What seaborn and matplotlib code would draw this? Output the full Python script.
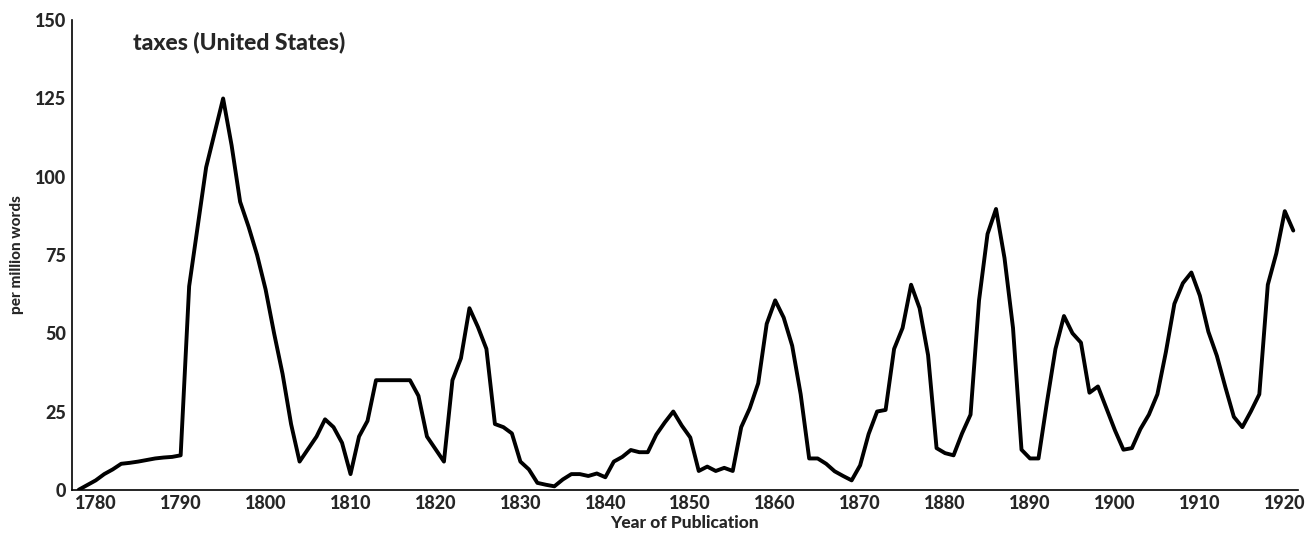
import matplotlib
matplotlib.use("Agg")
import matplotlib.pyplot as plt
import seaborn as sns
import pandas as pd

years = list(range(1778, 1922))
values = [0, 1.5, 3, 5, 6.5, 8.3, 8.6, 9, 9.5, 10, 10.3, 10.5, 11, 65,
          84, 103, 114, 125, 110, 92, 84, 75, 64, 50, 37, 21, 9, 13, 17, 22.5,
          20, 15, 5, 17, 22, 35, 35, 35, 35, 35, 30, 17, 13, 9, 35, 42, 58, 52,
          45, 21, 20, 18, 9, 6.5, 2.2, 1.6, 1.1, 3.3, 5, 5, 4.4, 5.2, 4, 9, 10.5,
          12.7, 12, 12, 17.6, 21.5, 25, 20.5, 16.7, 6, 7.4, 6, 7, 6, 20, 26, 34,
          53, 60.5, 55, 46, 30.5, 10, 10, 8.3, 5.9, 4.4, 3, 7.8, 17.8, 25, 25.5,
          45, 51.7, 65.5, 58, 43, 13.3, 11.7, 11, 18, 24, 60.5, 81.7, 89.7, 74,
          51.7, 12.8, 10, 10, 28, 45, 55.5, 50, 47, 31, 33, 26, 19, 12.8, 13.3,
          19.4, 24, 30.5, 44, 59.4, 66, 69.4, 62, 50.5, 42.8, 32.8, 23.3, 20,
          25, 30.5, 65.5, 75.5, 89, 82.8]
yticks = [0, 25, 50, 75, 100, 125, 150]
xticks = list(range(1780, 1921, 10))
title = "taxes (United States)"

df = pd.DataFrame({"year": years, "value": values})
sns.set_style("white")
plt.rcParams["font.family"] = ["Lato", "DejaVu Sans"]

fig = plt.figure(figsize=(13.08, 5.46), dpi=100)
ax = fig.add_axes([0.055, 0.103, 0.937, 0.86])
sns.lineplot(data=df, x="year", y="value", ax=ax, color="black", linewidth=2.8)
ax.set_xlim(1777.2, 1921.5)
ax.set_ylim(0, 150)
ax.set_yticks(yticks)
ax.set_xticks(xticks)
ax.tick_params(length=0, labelsize=13, pad=4)
for lab in ax.get_xticklabels() + ax.get_yticklabels():
    lab.set_fontweight("black")
ax.set_xlabel("Year of Publication", fontsize=12.5, fontweight="black", labelpad=2)
ax.set_ylabel("per million words", fontsize=11, fontweight="black", labelpad=8)
ax.text(0.05, 0.975, title, transform=ax.transAxes, fontsize=16.5,
        fontweight="black", va="top", ha="left")
for s in ["top", "right"]:
    ax.spines[s].set_visible(False)
for s in ["left", "bottom"]:
    ax.spines[s].set_color("black")
    ax.spines[s].set_linewidth(1.2)
fig.savefig("out.png", dpi=100)
